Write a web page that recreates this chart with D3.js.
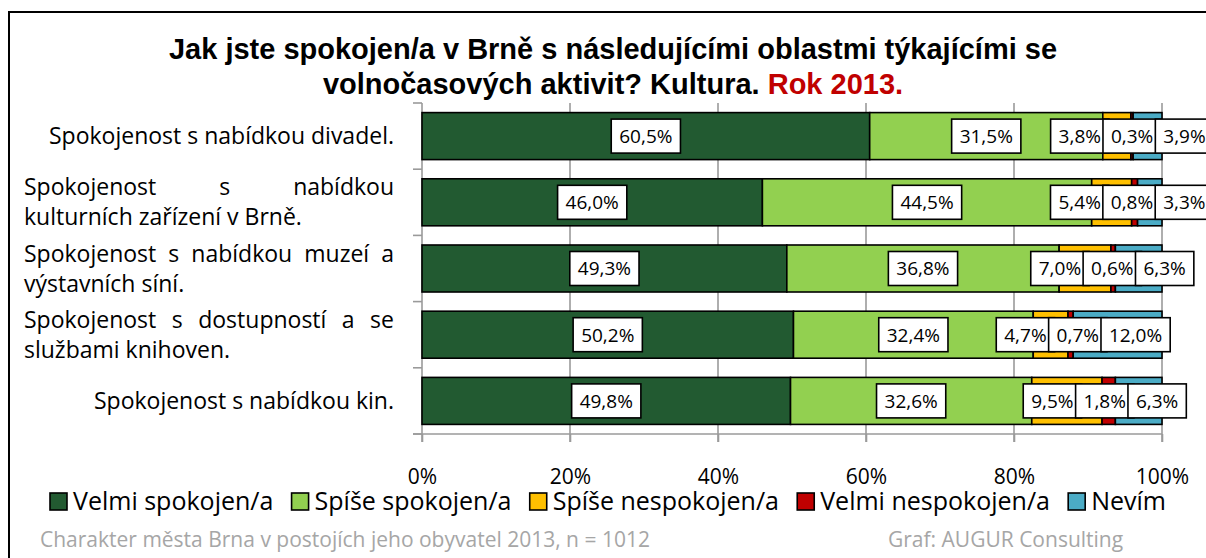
<!DOCTYPE html>
<html lang="cs">
<head>
<meta charset="UTF-8">
<title>Kultura – Rok 2013</title>
<script src="https://d3js.org/d3.v7.min.js"></script>
<style>
  body { margin: 0; background: #fff; }
  svg text { font-family: "Open Sans", sans-serif; fill: #000; }
  .title { font-family: "Liberation Sans", Arial, sans-serif; font-weight: bold; font-size: 29px; }
  .cat { font-size: 23px; }
  .val { font-size: 19px; }
  .tick-label { font-size: 21px; }
  .legend text, .legend-t { font-size: 25px; }
  .footer { font-size: 21px; fill: #a6a6a6 !important; }
</style>
</head>
<body>
<svg id="chart" width="1206" height="558"></svg>
<script>
// categories, top to bottom
const categories = [
    'Spokojenost s nabídkou divadel.',
    'Spokojenost s nabídkou kulturních zařízení v Brně.',
    'Spokojenost s nabídkou muzeí a výstavních síní.',
    'Spokojenost s dostupností a se službami knihoven.',
    'Spokojenost s nabídkou kin.'
];
const seriesNames = ['Velmi spokojen/a', 'Spíše spokojen/a', 'Spíše nespokojen/a', 'Velmi nespokojen/a', 'Nevím'];
const seriesColors = ['#225a31', '#92d050', '#ffc000', '#c00000', '#4bacc6'];

// values in %
const velmiSpokojen   = [60.5, 46.0, 49.3, 50.2, 49.8];
const spiseSpokojen   = [31.5, 44.5, 36.8, 32.4, 32.6];
const spiseNespokojen = [3.8, 5.4, 7.0, 4.7, 9.5];
const velmiNespokojen = [0.3, 0.8, 0.6, 0.7, 1.8];
const nevim           = [3.9, 3.3, 6.3, 12.0, 6.3];
const xTicks = [0, 20, 40, 60, 80, 100];

const seriesValues = [velmiSpokojen, spiseSpokojen, spiseNespokojen, velmiNespokojen, nevim];
const table = categories.map((c, i) => {
    const row = { cat: c };
    seriesNames.forEach((s, k) => row[s] = seriesValues[k][i]);
    return row;
});

const svg = d3.select('#chart');

// outer frame (right and bottom edges run off the picture)
svg.append('rect')
    .attr('x', 9).attr('y', 12)
    .attr('width', 1400).attr('height', 800)
    .attr('fill', 'none').attr('stroke', '#000').attr('stroke-width', 2);

// title
const title = svg.append('g');
title.append('text').attr('class', 'title')
    .attr('x', 613).attr('y', 59).attr('text-anchor', 'middle')
    .text('Jak jste spokojen/a v Brně s následujícími oblastmi týkajícími se');
const t2 = title.append('text').attr('class', 'title')
    .attr('x', 613).attr('y', 94).attr('text-anchor', 'middle');
t2.append('tspan').text('volnočasových aktivit? Kultura. ');
t2.append('tspan').style('fill', '#c00000').text('Rok 2013.');

const x = d3.scaleLinear().domain([0, 100]).range([422, 1162]);
const y = d3.scaleBand().domain(categories).range([103, 434])
    .paddingInner(0.29).paddingOuter(0.145);

// gridlines (run down past the axis as tick marks)
svg.append('g')
    .selectAll('line').data(xTicks.slice(1)).join('line')
    .attr('x1', d => x(d)).attr('x2', d => x(d))
    .attr('y1', 103).attr('y2', 442)
    .attr('stroke', '#9a9a9a').attr('stroke-width', 1.6);

// y axis
const yAxis = svg.append('g');
yAxis.append('line')
    .attr('x1', x(0)).attr('x2', x(0)).attr('y1', 103).attr('y2', 442)
    .attr('stroke', '#9a9a9a').attr('stroke-width', 1.6);
const bounds = categories.map(c => y(c) - y.step() * y.paddingInner() / 2)
    .concat([y(categories[categories.length - 1]) + y.bandwidth() + y.step() * y.paddingInner() / 2]);
yAxis.selectAll('.yt').data(bounds).join('line').attr('class', 'yt')
    .attr('x1', x(0) - 9).attr('x2', x(0))
    .attr('y1', d => d).attr('y2', d => d)
    .attr('stroke', '#9a9a9a').attr('stroke-width', 1.6);

// x axis
const xAxis = svg.append('g').attr('transform', 'translate(0,434)')
    .call(d3.axisBottom(x).tickValues(xTicks).tickSize(8).tickFormat(d => d + '%'));
xAxis.select('.domain').attr('stroke', '#9a9a9a').attr('stroke-width', 1.6)
    .attr('d', `M${x(0) - 9},0H${x(100)}`);
xAxis.selectAll('.tick line').attr('stroke', '#9a9a9a').attr('stroke-width', 1.6);
xAxis.selectAll('.tick text').attr('class', 'tick-label')
    .attr('y', 0).attr('dy', 50).attr('font-size', null).attr('font-family', null);

// stacked bars
const stacked = d3.stack().keys(seriesNames)(table);
const bars = svg.append('g');
stacked.forEach((s, k) => {
    bars.selectAll('.s' + k).data(s).join('rect')
        .attr('class', 's' + k)
        .attr('x', d => x(d[0]))
        .attr('y', d => y(d.data.cat))
        .attr('width', d => x(d[1]) - x(d[0]))
        .attr('height', y.bandwidth())
        .attr('fill', seriesColors[k])
        .attr('stroke', '#000').attr('stroke-width', 1.6);
});

// value labels: centred on segment, then pushed apart where they collide
const fmt = v => v.toFixed(1).replace('.', ',') + '%';
const measurer = svg.append('text').attr('x', -999).attr('y', -999);
function textW(str, cls) {
    measurer.attr('class', cls).text(str);
    return measurer.node().getComputedTextLength();
}

function spread(items, gap) {
    const groups = [];
    function place(g) {
        let off = 0;
        const offs = g.map((it, i) => {
            if (i > 0) off += g[i - 1].w / 2 + gap + it.w / 2;
            return off;
        });
        const start = d3.mean(g, (it, i) => it.c - offs[i]);
        g.forEach((it, i) => it.x = start + offs[i]);
    }
    items.forEach(it => {
        groups.push([it]);
        place(groups[groups.length - 1]);
        while (groups.length > 1) {
            const a = groups[groups.length - 2], b = groups[groups.length - 1];
            const aEnd = a[a.length - 1].x + a[a.length - 1].w / 2;
            const bStart = b[0].x - b[0].w / 2;
            if (aEnd + gap > bStart) {
                groups.splice(groups.length - 2, 2, a.concat(b));
                place(groups[groups.length - 1]);
            } else break;
        }
    });
    return items;
}

const boxH = 34;
const labelLayer = svg.append('g');
categories.forEach((cat, i) => {
    const items = stacked.map((s, k) => {
        const d = s[i];
        const txt = fmt(d.data[seriesNames[k]]);
        return { k, txt, c: x((d[0] + d[1]) / 2), w: textW(txt, 'val') + 16 };
    });
    spread(items, -6);
    const cy = y(cat) + y.bandwidth() / 2;
    items.forEach(it => {
        const g = labelLayer.append('g');
        g.append('rect')
            .attr('x', it.x - it.w / 2).attr('y', cy - boxH / 2)
            .attr('width', it.w).attr('height', boxH)
            .attr('fill', '#fff').attr('stroke', '#000').attr('stroke-width', 1.6);
        g.append('text').attr('class', 'val')
            .attr('x', it.x).attr('y', cy).attr('dy', '0.36em')
            .attr('text-anchor', 'middle').text(it.txt);
    });
});

// category labels, justified like the original text boxes
const boxL = 24, boxR = 394, wrapW = 362, lineH = 30;
const catLayer = svg.append('g');
categories.forEach(cat => {
    const words = cat.split(' ');
    const lines = [];
    let cur = [];
    words.forEach(w => {
        const trial = cur.concat(w);
        if (cur.length && textW(trial.join(' '), 'cat') > wrapW) {
            lines.push(cur);
            cur = [w];
        } else cur = trial;
    });
    lines.push(cur);
    const cy = y(cat) + y.bandwidth() / 2;
    const y0 = cy - (lines.length - 1) * lineH / 2;
    lines.forEach((ln, li) => {
        const ly = y0 + li * lineH;
        if (lines.length === 1) {
            catLayer.append('text').attr('class', 'cat')
                .attr('x', boxR).attr('y', ly).attr('dy', '0.35em')
                .attr('text-anchor', 'end').text(ln.join(' '));
        } else if (li < lines.length - 1 && ln.length > 1) {
            const ws = ln.map(w => textW(w, 'cat'));
            const gap = (boxR - boxL - d3.sum(ws)) / (ln.length - 1);
            let px = boxL;
            ln.forEach((w, wi) => {
                catLayer.append('text').attr('class', 'cat')
                    .attr('x', px).attr('y', ly).attr('dy', '0.35em').text(w);
                px += ws[wi] + gap;
            });
        } else {
            catLayer.append('text').attr('class', 'cat')
                .attr('x', boxL).attr('y', ly).attr('dy', '0.35em').text(ln.join(' '));
        }
    });
});

// legend, spread across the same width as in the original
const legendL = 50, legendR = 1166, sq = 17, sqGap = 6;
const legendW = seriesNames.map(n => textW(n, 'legend-t'));
measurer.remove();
const legend = svg.append('g').attr('class', 'legend');
const itemGap = (legendR - legendL - d3.sum(legendW) - seriesNames.length * (sq + sqGap)) / (seriesNames.length - 1);
let lx = legendL;
seriesNames.forEach((name, k) => {
    legend.append('rect')
        .attr('x', lx).attr('y', 493).attr('width', sq).attr('height', sq)
        .attr('fill', seriesColors[k]).attr('stroke', '#000').attr('stroke-width', 1.6);
    legend.append('text').attr('x', lx + sq + sqGap).attr('y', 510).text(name);
    lx += sq + sqGap + legendW[k] + itemGap;
});

// footer
svg.append('text').attr('class', 'footer')
    .attr('x', 40).attr('y', 547)
    .text('Charakter města Brna v postojích jeho obyvatel 2013, n = 1012');
svg.append('text').attr('class', 'footer')
    .attr('x', 888).attr('y', 547)
    .text('Graf: AUGUR Consulting');
</script>
</body>
</html>
